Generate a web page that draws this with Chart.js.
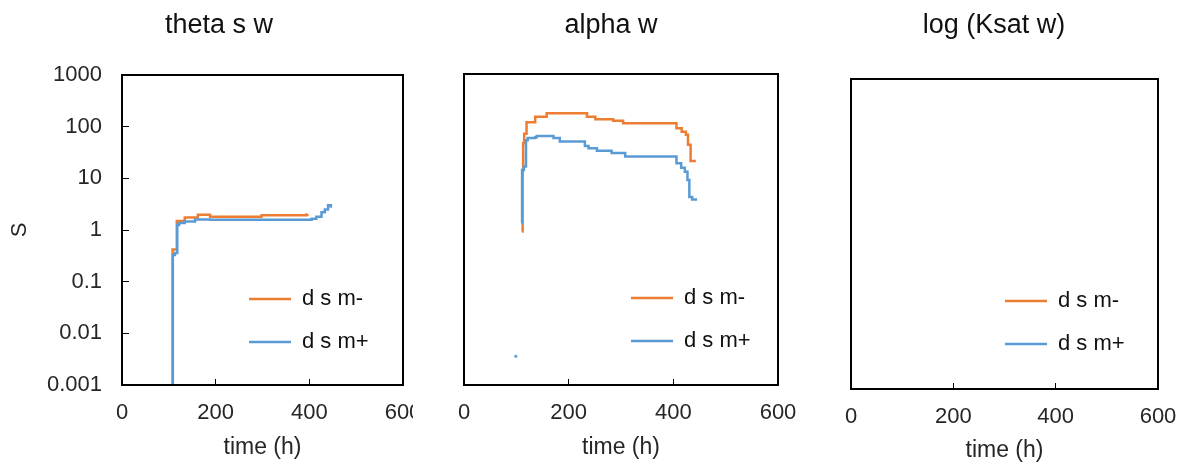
<!DOCTYPE html>
<html>
<head>
<meta charset="utf-8">
<script src="https://cdn.jsdelivr.net/npm/chart.js@4.4.0/dist/chart.umd.min.js"></script>
<style>
  html, body { margin: 0; padding: 0; background: #fff; }
  #wrap { position: relative; width: 1187px; height: 467px; overflow: hidden; }
  canvas { position: absolute; top: 0; }
</style>
</head>
<body>
<div id="wrap">
  <canvas id="theta" width="413" height="467" style="left:0px"></canvas>
  <canvas id="alpha" width="400" height="467" style="left:420px"></canvas>
  <canvas id="ksat" width="362" height="467" style="left:825px"></canvas>
</div>
<script>
const seriesNames = ['d s m-', 'd s m+'];
const seriesColors = ['#ED7D31', '#5B9BD5'];
const xTicks = [0, 200, 400, 600];
const yTicks = [0.001, 0.01, 0.1, 1, 10, 100, 1000];

// theta s w
const thetaTimeMinus = [107, 108, 117, 134, 162, 188, 298, 394, 396];
const thetaSMinus = [0.001, 0.42, 1.5, 1.75, 1.97, 1.81, 1.92, 2.0, 2.05];
const thetaTimePlus = [108, 108.5, 113, 118, 122, 134, 156, 188, 405, 415, 426, 433, 440, 446];
const thetaSPlus = [0.001, 0.33, 0.36, 1.25, 1.37, 1.46, 1.6, 1.58, 1.65, 1.8, 2.2, 2.5, 3.0, 2.7];

// alpha w
const alphaTimeMinus = [111, 112, 113, 115, 119.5, 136, 158, 235, 251, 285, 304, 406, 416, 424, 428, 433, 443];
const alphaSMinus = [0.91, 14, 46, 70, 117, 150, 175, 150, 134, 126, 112, 90, 77, 67, 43, 21, 21];
const alphaTimePlus = [110.5, 111, 114.5, 118.5, 121.7, 136, 139, 171, 183, 231, 238, 254, 282, 308, 406, 415, 422, 427, 430.6, 436, 443];
const alphaSPlus = [1.32, 14, 16.5, 53, 58, 60, 64, 58, 50, 41, 37, 33, 30, 25.5, 19, 15.5, 13, 9, 4.25, 3.8, 3.6];
const alphaDotTime = [99];
const alphaDotS = [0.0036];

// log (Ksat w) - sem dados
const ksatTimeMinus = [];
const ksatSMinus = [];
const ksatTimePlus = [];
const ksatSPlus = [];

Chart.defaults.font.family = '"Liberation Sans", Arial, sans-serif';
Chart.defaults.color = '#262626';

function pts(xs, ys) {
    return xs.map((x, i) => ({ x: x, y: ys[i] }));
}

function serie(i, xs, ys) {
    return {
        label: seriesNames[i],
        data: pts(xs, ys),
        borderColor: seriesColors[i],
        backgroundColor: seriesColors[i],
        borderWidth: 2.5,
        pointRadius: 0,
        stepped: true,
        order: i === 0 ? 1 : 0
    };
}

// moldura preta em volta da area do grafico
const moldura = {
    id: 'moldura',
    afterDatasetsDraw(chart) {
        const a = chart.chartArea, ctx = chart.ctx;
        ctx.save();
        ctx.strokeStyle = '#000';
        ctx.lineWidth = 2;
        ctx.strokeRect(a.left, a.top, a.right - a.left, a.bottom - a.top);
        ctx.restore();
    }
};

// legenda dentro do grafico, no canto de baixo
const posLegenda = {
    id: 'posLegenda',
    afterLayout(chart, args, opts) {
        const lg = chart.legend;
        lg.left = opts.x - opts.pad;
        lg.top = opts.y - opts.pad - opts.size / 2;
        lg.right = chart.width;
        lg.bottom = chart.height;
    }
};

function painel(id, cfg) {
    return new Chart(document.getElementById(id), {
        type: 'line',
        data: { datasets: cfg.datasets },
        options: {
            responsive: false,
            animation: false,
            devicePixelRatio: 1,
            layout: { padding: { left: cfg.padL, right: cfg.padR, top: 0, bottom: 0 } },
            plugins: {
                title: {
                    display: true,
                    text: cfg.title,
                    color: '#111',
                    font: { size: 27, weight: 'normal' },
                    padding: { top: 9, bottom: cfg.titleGap }
                },
                legend: {
                    position: 'chartArea',
                    align: 'start',
                    labels: {
                        usePointStyle: true,
                        pointStyle: 'line',
                        pointStyleWidth: 42,
                        font: { size: 22 },
                        color: '#111',
                        padding: 21,
                        filter: item => item.text !== '',
                        sort: (a, b) => a.datasetIndex - b.datasetIndex
                    }
                },
                tooltip: { enabled: false },
                posLegenda: { x: cfg.legX, y: cfg.legY, pad: 21, size: 22 }
            },
            scales: {
                x: {
                    type: 'linear',
                    min: 0,
                    max: 600,
                    afterBuildTicks: s => { s.ticks = xTicks.map(v => ({ value: v })); },
                    afterFit: s => { s.height = cfg.xHeight; s.paddingLeft = 0; s.paddingRight = 0; },
                    border: { display: false },
                    grid: { drawOnChartArea: false, tickLength: -6, tickColor: '#000', tickWidth: 1 },
                    ticks: { font: { size: 22 }, padding: 21, maxRotation: 0, autoSkip: false },
                    title: {
                        display: true,
                        text: 'time (h)',
                        font: { size: 23 },
                        padding: { top: 0, bottom: cfg.xTitlePad }
                    }
                },
                y: {
                    type: 'logarithmic',
                    min: 0.001,
                    max: 1000,
                    afterBuildTicks: s => { s.ticks = yTicks.map(v => ({ value: v })); },
                    afterFit: s => { s.width = cfg.yWidth; s.paddingTop = 0; s.paddingBottom = 0; },
                    border: { display: false },
                    grid: { drawOnChartArea: false, drawTicks: cfg.yLabels, tickLength: -7, tickColor: '#000', tickWidth: 1 },
                    ticks: { display: cfg.yLabels, font: { size: 22 }, padding: 27, callback: v => String(v) },
                    title: {
                        display: cfg.yLabels,
                        text: 'S',
                        font: { size: 22 },
                        padding: { top: -28, bottom: 0 }
                    }
                }
            }
        },
        plugins: [moldura, posLegenda]
    });
}

painel('theta', {
    title: 'theta s w',
    datasets: [serie(0, thetaTimeMinus, thetaSMinus), serie(1, thetaTimePlus, thetaSPlus)],
    padL: 35, padR: 10, titleGap: 33.6, yWidth: 87, xHeight: 82, xTitlePad: 6,
    yLabels: true, legX: 249, legY: 299
});

painel('alpha', {
    title: 'alpha w',
    datasets: [
        serie(0, alphaTimeMinus, alphaSMinus),
        serie(1, alphaTimePlus, alphaSPlus),
        {
            label: '',
            data: pts(alphaDotTime, alphaDotS),
            showLine: false,
            pointRadius: 1.5,
            pointBackgroundColor: seriesColors[1],
            pointBorderWidth: 0,
            borderColor: seriesColors[1],
            order: 2
        }
    ],
    padL: 24, padR: 42, titleGap: 32.6, yWidth: 20, xHeight: 82, xTitlePad: 6,
    yLabels: false, legX: 211, legY: 298
});

painel('ksat', {
    title: 'log (Ksat w)',
    datasets: [serie(0, ksatTimeMinus, ksatSMinus), serie(1, ksatTimePlus, ksatSPlus)],
    padL: 5, padR: 29, titleGap: 37.6, yWidth: 21, xHeight: 78, xTitlePad: 3,
    yLabels: false, legX: 180, legY: 301
});
</script>
</body>
</html>
